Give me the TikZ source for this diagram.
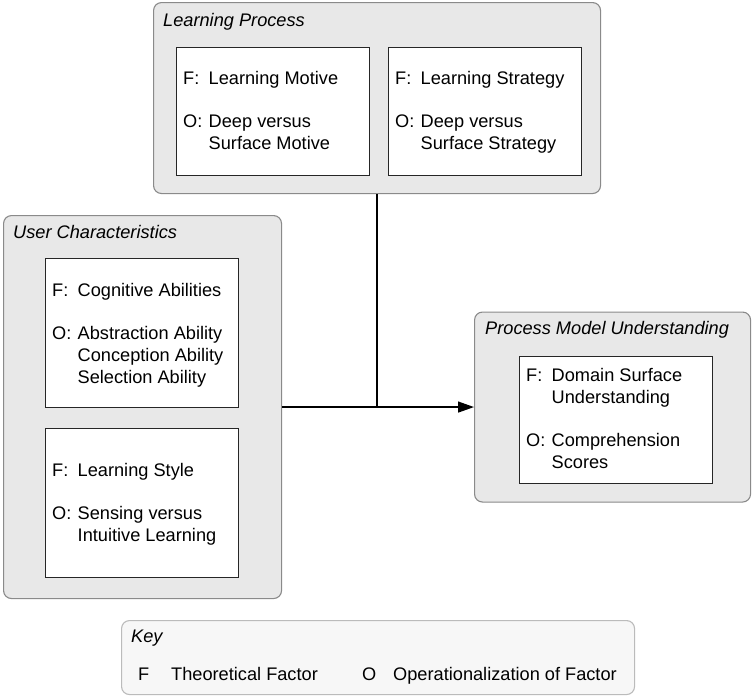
\documentclass[tikz,border=0pt]{standalone}
\usepackage{fontspec}
\setmainfont{Liberation Sans}
\usetikzlibrary{arrows.meta}
\definecolor{outerfill}{HTML}{E8E8E8}
\definecolor{outerline}{HTML}{8A8A8A}
\definecolor{keyfill}{HTML}{F7F7F7}
\definecolor{keyline}{HTML}{BBBBBB}
\newcommand{\fo}[3]{\begin{tabular}[t]{@{}p{25.5pt}@{}l@{}}F: & #1\\[21.7pt] O: & #2\\ #3\end{tabular}}
\begin{document}
\begin{tikzpicture}[x=1pt,y=-1pt,
  every node/.style={font=\fontsize{18.2}{21.7}\selectfont},
  outerbox/.style={draw=outerline, fill=outerfill, line width=1.1pt, rounded corners=8pt, anchor=north west, inner sep=0pt},
  keybox/.style={draw=keyline, fill=keyfill, line width=1.1pt, rounded corners=8pt, anchor=north west, inner sep=0pt},
  innerbox/.style={draw=black!85, fill=white, line width=0.9pt, anchor=north west, inner sep=0pt},
  title/.style={anchor=base west, inner sep=0pt, font=\fontsize{18.2}{21.7}\selectfont\itshape},
  txt/.style={anchor=base west, inner sep=0pt},
  conn/.style={line width=1.4pt, black}]
\useasboundingbox (0,0) rectangle (753,696);
% Learning Process
\node[outerbox, minimum width=447pt, minimum height=191pt] (lp) at (153,2) {};
\node[title] (lpt) at (163,26) {Learning Process};
\node[innerbox, minimum width=193pt, minimum height=128pt] (lp1) at (176,47) {};
\node[innerbox, minimum width=193pt, minimum height=128pt] (lp2) at (388,47) {};
\node[txt] (lp1t) at (183,84.5) {\fo{Learning Motive}{Deep versus}{& Surface Motive}};
\node[txt] (lp2t) at (395,84.5) {\fo{Learning Strategy}{Deep versus}{& Surface Strategy}};
% User Characteristics
\node[outerbox, minimum width=278pt, minimum height=383pt] (uc) at (3,215) {};
\node[title] (uct) at (13,238) {User Characteristics};
\node[innerbox, minimum width=193pt, minimum height=149pt] (uc1) at (45,258) {};
\node[innerbox, minimum width=193pt, minimum height=149pt] (uc2) at (45,428) {};
\node[txt] (uc1t) at (52,296.5) {\fo{Cognitive Abilities}{Abstraction Ability}{& Conception Ability\\ & Selection Ability}};
\node[txt] (uc2t) at (52,476.5) {\fo{Learning Style}{Sensing versus}{& Intuitive Learning}};
% Process Model Understanding
\node[outerbox, minimum width=276pt, minimum height=190pt] (pmu) at (474,311.5) {};
\node[title] (pmut) at (485,334.5) {Process Model Understanding};
\node[innerbox, minimum width=193pt, minimum height=127pt] (pmu1) at (519,356) {};
\node[txt] (pmu1t) at (526,381.5) {\begin{tabular}[t]{@{}p{25.5pt}@{}l@{}}F: & Domain Surface\\ & Understanding\\[21.7pt] O: & Comprehension\\ & Scores\end{tabular}};
% Connectors
\coordinate (j) at (lp.south |- uc.east);
\draw[conn] (lp.south) -- (j);
\draw[conn, -{Triangle[length=16pt,width=11pt]}] (uc.east) -- (pmu.west |- uc.east);
% Key
\node[keybox, minimum width=513pt, minimum height=74pt] (key) at (121,620) {};
\node[title] (keyt) at (131,642) {Key};
\node[txt] (kf) at (138,680) {F};
\node[txt] (kft) at (171,680) {Theoretical Factor};
\node[txt] (ko) at (362,680) {O};
\node[txt] (kot) at (393,680) {Operationalization of Factor};
\end{tikzpicture}
\end{document}
